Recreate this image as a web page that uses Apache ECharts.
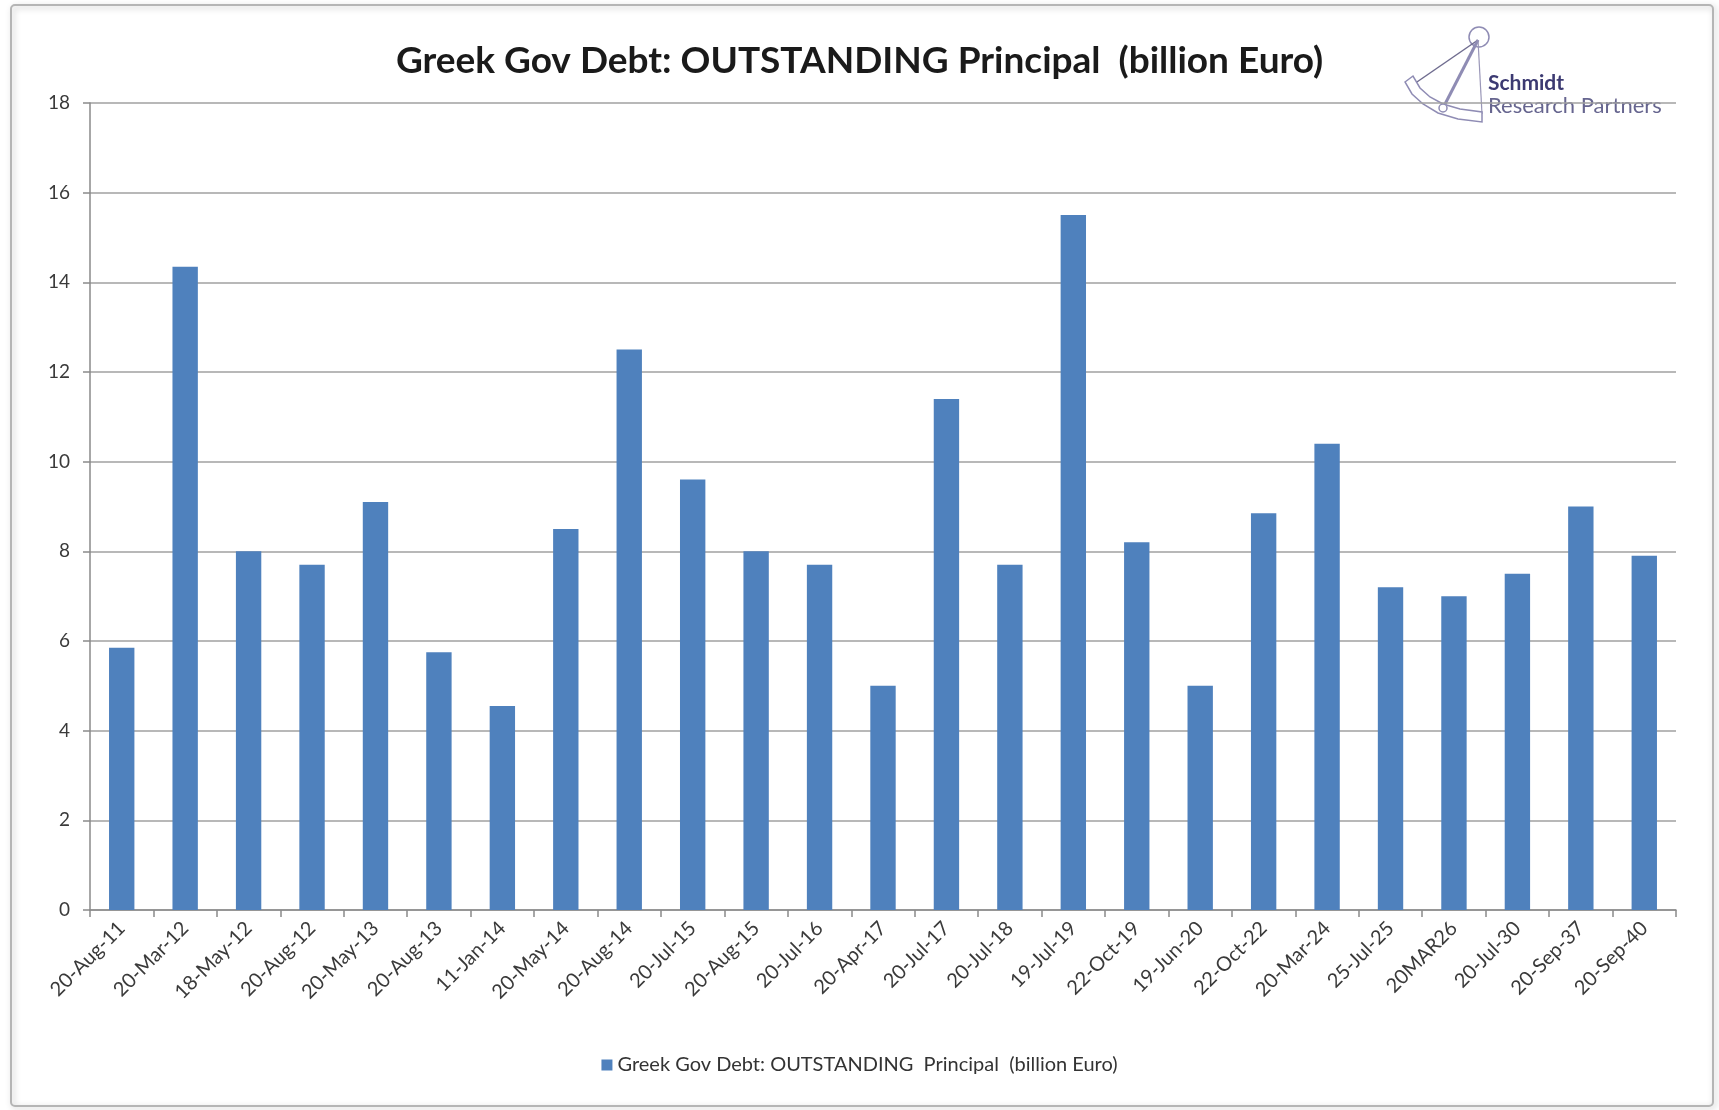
<!DOCTYPE html>
<html>
<head>
<meta charset="utf-8">
<script src="https://cdn.jsdelivr.net/npm/echarts@6/dist/echarts.min.js"></script>
<style>
html,body{margin:0;padding:0;background:#ffffff;}
#chart{width:1719px;height:1110px;}
</style>
</head>
<body>
<div id="chart"></div>
<script>
const chartTitle = 'Greek Gov Debt: OUTSTANDING Principal  (billion Euro)';
const seriesName = 'Greek Gov Debt: OUTSTANDING  Principal  (billion Euro)';
const categories = ['20-Aug-11','20-Mar-12','18-May-12','20-Aug-12','20-May-13','20-Aug-13','11-Jan-14','20-May-14','20-Aug-14','20-Jul-15','20-Aug-15','20-Jul-16','20-Apr-17','20-Jul-17','20-Jul-18','19-Jul-19','22-Oct-19','19-Jun-20','22-Oct-22','20-Mar-24','25-Jul-25','20MAR26','20-Jul-30','20-Sep-37','20-Sep-40'];
const values = [5.85,14.35,8.0,7.7,9.1,5.75,4.55,8.5,12.5,9.6,8.0,7.7,5.0,11.4,7.7,15.5,8.2,5.0,8.85,10.4,7.2,7.0,7.5,9.0,7.9];
const yTicks = {min:0, max:18, interval:2};

const FONT = 'Lato, "Liberation Sans", sans-serif';
const chart = echarts.init(document.getElementById('chart'));
const logoColor = '#8f8cb4';
chart.setOption({
  animation:false,
  backgroundColor:'#ffffff',
  title:{
    text:chartTitle,
    left:'center', top:38,
    textStyle:{fontFamily:FONT, fontSize:37, fontWeight:'bold', color:'#1a1a1a'}
  },
  legend:{
    bottom:30, left:'center',
    itemWidth:11, itemHeight:11, icon:'rect', itemGap:6,
    textStyle:{fontFamily:FONT, fontSize:20, color:'#333'}
  },
  grid:{left:90, right:43, top:103, bottom:200, containLabel:false},
  xAxis:{
    type:'category', data:categories,
    axisLine:{lineStyle:{color:'#8a8a8a', width:1.5}},
    axisTick:{show:true, alignWithLabel:false, length:7, lineStyle:{color:'#8a8a8a', width:1.5}},
    axisLabel:{rotate:45, interval:0, margin:15, fontFamily:FONT, fontSize:20, color:'#3a3a3a'}
  },
  yAxis:{
    type:'value', min:yTicks.min, max:yTicks.max, interval:yTicks.interval,
    axisLine:{show:true, lineStyle:{color:'#8a8a8a', width:1.5}},
    axisTick:{show:true, length:7, lineStyle:{color:'#8a8a8a', width:1.5}},
    splitLine:{lineStyle:{color:'#a0a0a0', width:1.5}},
    axisLabel:{margin:20, fontFamily:FONT, fontSize:19, color:'#3a3a3a'}
  },
  series:[{
    name:seriesName, type:'bar', data:values, barWidth:'40%',
    itemStyle:{color:'#4f81bd'}
  }],
  graphic:[
    {type:'rect', silent:true, z:-10, shape:{x:11,y:5,width:1702,height:1101,r:4},
     style:{fill:'none', stroke:'#b5b5b5', lineWidth:2, shadowBlur:6, shadowColor:'rgba(0,0,0,0.25)', shadowOffsetX:2, shadowOffsetY:2}},
    {type:'group', z:100, children:[
      {type:'rect', shape:{x:1403,y:25,width:254,height:100}, style:{fill:'#ffffff'}},
      {type:'circle', shape:{cx:1479,cy:37,r:10}, style:{fill:'#ffffff', stroke:logoColor, lineWidth:1.5}},
      {type:'line', shape:{x1:1478,y1:40,x2:1414,y2:84}, style:{stroke:'#6f6c8f', lineWidth:1.5}},
      {type:'line', shape:{x1:1478,y1:40,x2:1443,y2:108}, style:{stroke:logoColor, lineWidth:3}},
      {type:'line', shape:{x1:1478,y1:40,x2:1482,y2:114}, style:{stroke:'#9a97b8', lineWidth:1.2}},
      {type:'polygon', shape:{points:[[1405,82],[1413,76],[1420,88],[1430,97],[1443,104],[1460,109],[1482,112],[1482,122],[1458,119],[1438,113],[1423,104],[1412,94]]},
       style:{fill:'#ffffff', stroke:logoColor, lineWidth:1.5}},
      {type:'circle', shape:{cx:1443,cy:108,r:4}, style:{fill:'#ffffff', stroke:logoColor, lineWidth:1.5}},
      {type:'text', x:1488, y:83, style:{text:'Schmidt', fontFamily:FONT, fontSize:21, fontWeight:'bold', fill:'#3c3a72', verticalAlign:'middle'}},
      {type:'text', x:1488, y:106, style:{text:'Research Partners', fontFamily:FONT, fontSize:22, fill:'#66658f', verticalAlign:'middle'}}
    ]}
  ]
});
</script>
</body>
</html>
